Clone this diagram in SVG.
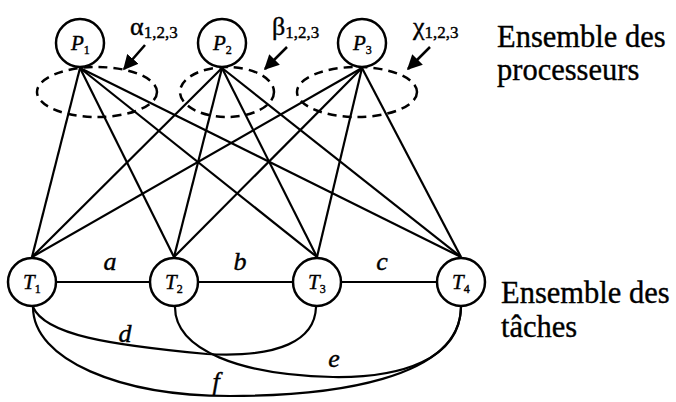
<svg xmlns="http://www.w3.org/2000/svg" width="676" height="402" viewBox="0 0 676 402">
<defs>
<style>
.node{fill:#fff;stroke:#000;stroke-width:2.5}
.lbl{font-family:"Liberation Serif","Times New Roman",serif;font-style:italic;font-size:21px;fill:#000;stroke:#000;stroke-width:0.4}
.sub{font-size:12px;font-style:normal}
.edge{fill:none;stroke:#000;stroke-width:2.2}
.ell{fill:none;stroke:#000;stroke-width:2.5;stroke-dasharray:9 6}
.elbl{font-family:"Liberation Serif","Times New Roman",serif;font-style:italic;font-size:26px;fill:#000;stroke:#000;stroke-width:0.4}
.grk{font-family:"Liberation Serif","Times New Roman",serif;font-size:26px;fill:#000;stroke:#000;stroke-width:0.4}
.gsub{font-size:17px}
.side{font-family:"Liberation Serif","Times New Roman",serif;font-size:30.5px;fill:#000;stroke:#000;stroke-width:0.35}
.arr{stroke:#000;stroke-width:2.5;fill:none}
</style>
<marker id="ah" viewBox="0 0 10 10" refX="9" refY="5" markerWidth="6" markerHeight="6" orient="auto">
<path d="M0,0 L10,5 L0,10 z" fill="#000"/>
</marker>
</defs>
<g id="connectors">
<line class="edge" x1="80" y1="68" x2="32" y2="257"/>
<line class="edge" x1="80" y1="68" x2="174" y2="257"/>
<line class="edge" x1="80" y1="68" x2="317" y2="257"/>
<line class="edge" x1="80" y1="68" x2="461" y2="257"/>
<line class="edge" x1="222" y1="68" x2="32" y2="257"/>
<line class="edge" x1="222" y1="68" x2="174" y2="257"/>
<line class="edge" x1="222" y1="68" x2="317" y2="257"/>
<line class="edge" x1="222" y1="68" x2="461" y2="257"/>
<line class="edge" x1="362" y1="68" x2="32" y2="257"/>
<line class="edge" x1="362" y1="68" x2="174" y2="257"/>
<line class="edge" x1="362" y1="68" x2="317" y2="257"/>
<line class="edge" x1="362" y1="68" x2="461" y2="257"/>
<line class="edge" x1="57" y1="282" x2="149" y2="282"/>
<line class="edge" x1="199" y1="282" x2="292" y2="282"/>
<line class="edge" x1="342" y1="282" x2="436" y2="282"/>
<path class="edge" d="M33,307 C45,335 110,345 207,354 C280,358 315,340 316,307"/>
<path class="edge" d="M175,307 C175,350 240,375 333,377 C400,378 460,360 461,307"/>
<path class="edge" d="M33,307 C33,360 120,396 230,396 C330,396 460,380 461,307"/>
<text class="elbl" x="110" y="270" text-anchor="middle">a</text>
<text class="elbl" x="240" y="270" text-anchor="middle">b</text>
<text class="elbl" x="382" y="270" text-anchor="middle">c</text>
<text class="elbl" x="125" y="342" text-anchor="middle">d</text>
<text class="elbl" x="334" y="367" text-anchor="middle">e</text>
<text class="elbl" x="216" y="390" text-anchor="middle">f</text>
</g>
<g id="groups">
<ellipse class="ell" cx="97" cy="92" rx="60" ry="25"/>
<ellipse class="ell" cx="227" cy="92" rx="47" ry="25"/>
<ellipse class="ell" cx="357" cy="92" rx="60" ry="25"/>
<line class="arr" x1="145" y1="45" x2="124" y2="69" marker-end="url(#ah)"/>
<line class="arr" x1="287" y1="47" x2="265" y2="69" marker-end="url(#ah)"/>
<line class="arr" x1="430" y1="47" x2="408" y2="69" marker-end="url(#ah)"/>
<text class="grk" x="130" y="35">α<tspan class="gsub" dy="3">1,2,3</tspan></text>
<text class="grk" x="272" y="35">β<tspan class="gsub" dy="3">1,2,3</tspan></text>
<text class="grk" x="413" y="35">χ<tspan class="gsub" dy="3">1,2,3</tspan></text>
</g>
<g id="P1"><circle class="node" cx="80" cy="43" r="24"/><text class="lbl" x="71" y="50">P<tspan class="sub" dy="4">1</tspan></text></g>
<g id="P2"><circle class="node" cx="222" cy="43" r="24"/><text class="lbl" x="213" y="50">P<tspan class="sub" dy="4">2</tspan></text></g>
<g id="P3"><circle class="node" cx="362" cy="43" r="24"/><text class="lbl" x="353" y="50">P<tspan class="sub" dy="4">3</tspan></text></g>
<g id="T1"><circle class="node" cx="32" cy="282" r="24"/><text class="lbl" x="23" y="289">T<tspan class="sub" dy="4">1</tspan></text></g>
<g id="T2"><circle class="node" cx="174" cy="282" r="24"/><text class="lbl" x="165" y="289">T<tspan class="sub" dy="4">2</tspan></text></g>
<g id="T3"><circle class="node" cx="317" cy="282" r="24"/><text class="lbl" x="308" y="289">T<tspan class="sub" dy="4">3</tspan></text></g>
<g id="T4"><circle class="node" cx="461" cy="282" r="24"/><text class="lbl" x="452" y="289">T<tspan class="sub" dy="4">4</tspan></text></g>
<g id="labels">
<text class="side" x="497" y="47">Ensemble des</text>
<text class="side" x="497" y="80">processeurs</text>
<text class="side" x="501" y="303">Ensemble des</text>
<text class="side" x="501" y="337">tâches</text>
</g>
</svg>
